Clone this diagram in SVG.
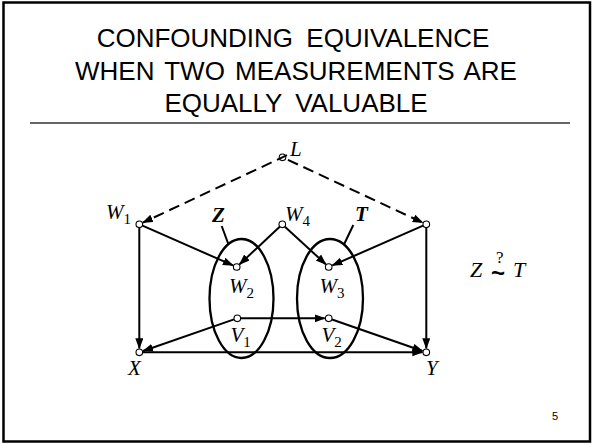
<svg xmlns="http://www.w3.org/2000/svg" width="593" height="444" viewBox="0 0 593 444">
<defs>
<marker id="ah" markerUnits="userSpaceOnUse" markerWidth="12" markerHeight="9" refX="10" refY="4" orient="auto">
<path d="M0,0 L11,4 L0,8 z" fill="#000"/>
</marker>
</defs>
<style>
.title{font-family:"Liberation Sans",Arial,sans-serif;font-size:26px;fill:#000;text-anchor:middle;word-spacing:6px}
.lbl{font-family:"Liberation Serif","Times New Roman",serif;font-style:italic;font-size:21px;fill:#000}
.sub{font-size:15px;font-style:normal}
.bold{font-weight:bold}
.node{fill:#fff;stroke:#000;stroke-width:1.1}
.edge{stroke:#000;stroke-width:2;fill:none;marker-end:url(#ah)}
.dash{stroke-dasharray:11 6}
.ell{fill:none;stroke:#000;stroke-width:2.3}
.tick{stroke:#000;stroke-width:2;fill:none}
</style>
<rect x="3.5" y="2.5" width="586.5" height="439" fill="#fff" stroke="#000" stroke-width="2.5"/>
<text class="title" x="293" y="47">CONFOUNDING EQUIVALENCE</text>
<text class="title" x="296" y="80" style="word-spacing:3px">WHEN TWO MEASUREMENTS ARE</text>
<text class="title" x="296" y="112">EQUALLY VALUABLE</text>
<line x1="30" y1="123" x2="570" y2="123" stroke="#333" stroke-width="1.3"/>

<g id="setZ">
<ellipse class="ell" cx="241.5" cy="298.5" rx="32" ry="59.5"/>
<line class="tick" x1="221.7" y1="226" x2="228.5" y2="244.5"/>
<text class="lbl bold" x="212" y="222">Z</text>
</g>
<g id="setT">
<ellipse class="ell" cx="330" cy="298.5" rx="33" ry="59.5"/>
<line class="tick" x1="353.3" y1="225" x2="344" y2="244.5"/>
<text class="lbl bold" x="355" y="221">T</text>
</g>

<g id="L"><circle class="node" cx="282.5" cy="157.3" r="3.3"/><text class="lbl" x="290" y="156">L</text></g>
<g id="W1"><circle class="node" cx="139.3" cy="224.3" r="3.3"/><text class="lbl" x="106" y="219">W<tspan class="sub" dy="5">1</tspan></text></g>
<g id="W4"><circle class="node" cx="282.3" cy="224.3" r="3.3"/><text class="lbl" x="285" y="221">W<tspan class="sub" dy="5">4</tspan></text></g>
<g id="R"><circle class="node" cx="426.3" cy="224.3" r="3.3"/></g>
<g id="W2"><circle class="node" cx="236.7" cy="267" r="3.3"/><text class="lbl" x="229" y="293">W<tspan class="sub" dy="5">2</tspan></text></g>
<g id="W3"><circle class="node" cx="328.7" cy="267" r="3.3"/><text class="lbl" x="319.5" y="293">W<tspan class="sub" dy="5">3</tspan></text></g>
<g id="V1"><circle class="node" cx="237.3" cy="318.3" r="3.3"/><text class="lbl" x="230.5" y="342">V<tspan class="sub" dy="5">1</tspan></text></g>
<g id="V2"><circle class="node" cx="328.7" cy="318.3" r="3.3"/><text class="lbl" x="321.5" y="342">V<tspan class="sub" dy="5">2</tspan></text></g>
<g id="X"><circle class="node" cx="139.3" cy="352.3" r="3.3"/><text class="lbl" x="128" y="375">X</text></g>
<g id="Y"><circle class="node" cx="426.3" cy="352.3" r="3.3"/><text class="lbl" x="426" y="375">Y</text></g>

<g id="connectors">
<line class="edge dash" x1="287" y1="155.2" x2="142.9" y2="222.6"/>
<line class="edge dash" x1="282.5" y1="157.3" x2="422.7" y2="222.6" stroke-dashoffset="-6"/>
<line class="edge" x1="142.5" y1="225.7" x2="233" y2="265.4"/>
<line class="edge" x1="279.7" y1="226.7" x2="239.6" y2="264.3"/>
<line class="edge" x1="284.9" y1="226.7" x2="325.8" y2="264.3"/>
<line class="edge" x1="423.1" y1="225.7" x2="332.4" y2="265.4"/>
<line class="edge" x1="139.3" y1="227.8" x2="139.3" y2="348.3"/>
<line class="edge" x1="426.3" y1="227.8" x2="426.3" y2="348.3"/>
<line class="edge" x1="234" y1="319.4" x2="143.1" y2="351"/>
<line class="edge" x1="240.8" y1="318.3" x2="324.7" y2="318.3"/>
<line class="edge" x1="332" y1="319.5" x2="422.5" y2="351"/>
<line class="edge" x1="142.8" y1="352.3" x2="422.3" y2="352.3"/>
</g>

<g id="relation">
<text class="lbl" style="font-size:22px"><tspan x="470" y="277">Z</tspan><tspan x="491" y="281" style="font-family:'Liberation Sans',Arial,sans-serif;font-style:normal;font-weight:bold;font-size:24px">~</tspan><tspan x="496" y="263" style="font-style:normal;font-size:17px">?</tspan><tspan x="513" y="277">T</tspan></text>
</g>
<text x="552" y="420" style="font-family:'Liberation Sans',Arial,sans-serif;font-size:11px">5</text>
</svg>
